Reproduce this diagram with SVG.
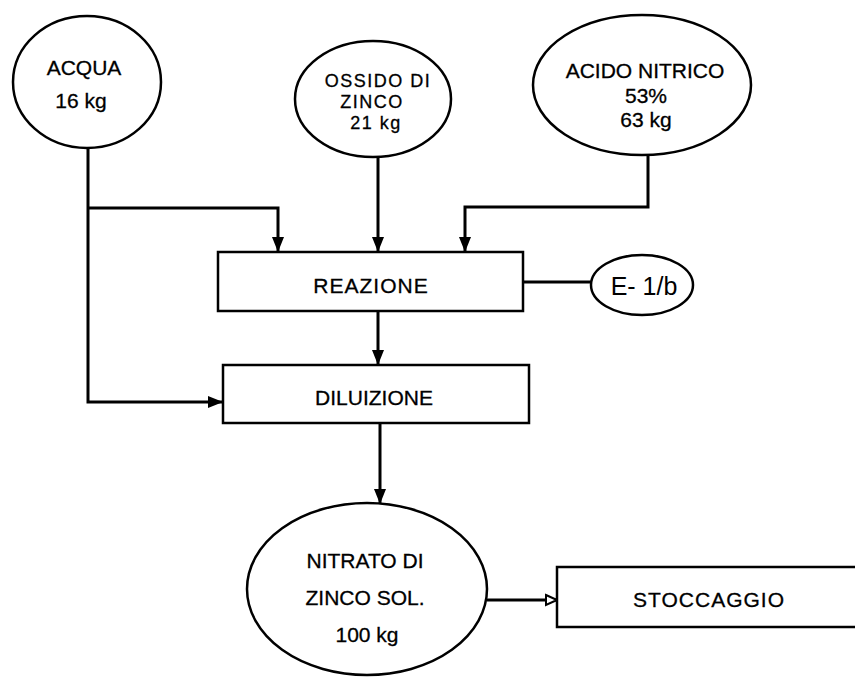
<svg xmlns="http://www.w3.org/2000/svg" width="855" height="677" viewBox="0 0 855 677">
<defs>
<style>
.shape{fill:#fff;stroke:#000;stroke-width:2.5}
.conn{fill:none;stroke:#000;stroke-width:3}
.t{font-family:"Liberation Sans",Arial,sans-serif;font-size:21px;fill:#000;stroke:#000;stroke-width:0.3;text-anchor:middle}
.sm{font-size:18px;letter-spacing:1.5px}
.big{font-size:25px;stroke-width:0}
</style>
<marker id="arr" markerUnits="userSpaceOnUse" markerWidth="16" markerHeight="14" refX="15" refY="6" orient="auto" viewBox="0 0 16 12">
<path d="M0,0 L15,6 L0,12 Z" fill="#000"/>
</marker>
<marker id="open" markerUnits="userSpaceOnUse" markerWidth="14" markerHeight="14" refX="12" refY="6" orient="auto" viewBox="0 0 14 12">
<path d="M1,1 L12,6 L1,11 Z" fill="#fff" stroke="#000" stroke-width="2"/>
</marker>
</defs>
<rect width="855" height="677" fill="#fff"/>
<g id="connectors">
<path class="conn" d="M88,148 V402 H223" marker-end="url(#arr)"/>
<path class="conn" d="M88,208 H278 V252" marker-end="url(#arr)"/>
<path class="conn" d="M378,157 V252" marker-end="url(#arr)" stroke-width="3.5"/>
<path class="conn" d="M648,155 V207 H465 V252" marker-end="url(#arr)"/>
<path class="conn" d="M523,282 H591"/>
<path class="conn" d="M378,311 V365" marker-end="url(#arr)" stroke-width="3.5"/>
<path class="conn" d="M380,423 V504" marker-end="url(#arr)"/>
<path class="conn" d="M487,600 H557" marker-end="url(#open)"/>
</g>
<g id="acqua">
<ellipse class="shape" cx="87" cy="82" rx="74" ry="66"/>
<text class="t" x="84" y="75">ACQUA</text>
<text class="t" x="81" y="108">16 kg</text>
</g>
<g id="ossido">
<ellipse class="shape" cx="373" cy="99" rx="78" ry="58"/>
<text class="t sm" x="378" y="87">OSSIDO DI</text>
<text class="t sm" x="372" y="108">ZINCO</text>
<text class="t sm" x="376" y="129">21 kg</text>
</g>
<g id="acido">
<ellipse class="shape" cx="642" cy="85" rx="109" ry="70"/>
<text class="t" x="645" y="78">ACIDO NITRICO</text>
<text class="t" x="646" y="103">53%</text>
<text class="t" x="646" y="127">63 kg</text>
</g>
<g id="reazione">
<rect class="shape" x="218" y="252" width="305" height="59"/>
<text class="t" x="371" y="293" letter-spacing="1">REAZIONE</text>
</g>
<g id="e1b">
<ellipse class="shape" cx="642" cy="285" rx="51" ry="30"/>
<text class="t big" x="644" y="295">E- 1/b</text>
</g>
<g id="diluizione">
<rect class="shape" x="223" y="365" width="306" height="58"/>
<text class="t" x="374" y="405">DILUIZIONE</text>
</g>
<g id="nitrato">
<ellipse class="shape" cx="367" cy="589" rx="120" ry="86"/>
<text class="t" x="365" y="568">NITRATO DI</text>
<text class="t" x="365" y="605">ZINCO SOL.</text>
<text class="t" x="367" y="642">100 kg</text>
</g>
<g id="stoccaggio">
<rect class="shape" x="557" y="567" width="310" height="60"/>
<text class="t" x="709" y="607" letter-spacing="1">STOCCAGGIO</text>
</g>
</svg>
